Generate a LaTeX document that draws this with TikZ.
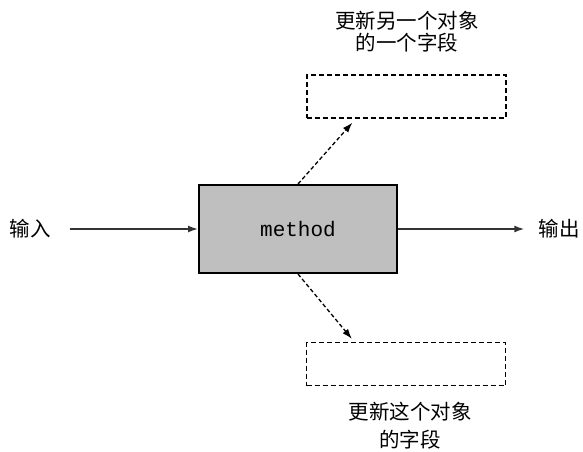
\documentclass[tikz,border=0pt]{standalone}
\usepackage{fontspec}
\setmonofont{Liberation Mono}
\newfontfamily\cjk{Noto Sans CJK SC}
\usetikzlibrary{arrows.meta,positioning}
\definecolor{methodfill}{HTML}{BFBFBF}
\definecolor{arrowline}{HTML}{333333}

\begin{document}
\begin{tikzpicture}[x=1pt,y=1pt,>={Latex[length=10pt,width=7pt]},font=\cjk\fontsize{20.5}{24}\selectfont]
\tikzset{
 methodbox/.style={draw,line width=2pt,fill=methodfill,minimum width=198pt,minimum height=88pt,inner sep=0pt,font=\ttfamily\fontsize{21}{21}\selectfont},
 fieldbox/.style={draw,dashed,dash pattern=on 5pt off 3pt,line width=1.4pt,minimum width=199pt,minimum height=43pt,inner sep=0pt},
 flow/.style={->,line width=1.5pt,arrowline},
 sideflow/.style={->,line width=1.3pt,dashed,dash pattern=on 4pt off 2.5pt}
}
\useasboundingbox (0,0) rectangle (583,451);
\node[methodbox] (method) at (298,222) {method};
\node[inner sep=0pt] (inlbl) at (30,222) {输入};
\node[inner sep=0pt] (outlbl) at (559,222) {输出};
\node[fieldbox] (upbox) at (406.5,354.5) {};
\node[fieldbox] (lowbox) at (406,87) {};
\node[align=center,inner sep=0pt] (uptext) at (407,419) {更新另一个对象\\[-2pt]的一个字段};
\node[align=center,inner sep=0pt] (lowtext) at (410,25) {更新这个对象\\[4pt]的字段};
\draw[flow,shorten <=19pt] (inlbl.east) -- (method.west);
\draw[flow,shorten >=14pt] (method.east) -- (outlbl.west);
\draw[sideflow] (method.north) -- ([xshift=46pt,yshift=-4pt]upbox.south west);
\draw[sideflow] (method.south) -- ([xshift=46pt,yshift=3pt]lowbox.north west);
\end{tikzpicture}
\end{document}
